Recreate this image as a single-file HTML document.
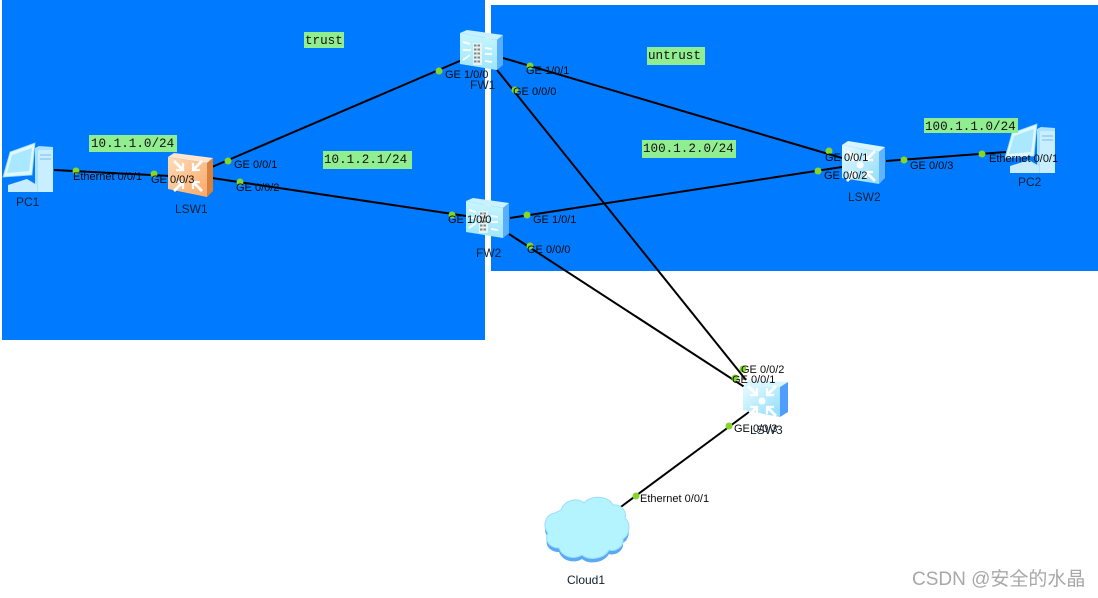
<!DOCTYPE html>
<html><head><meta charset="utf-8"><style>
html,body{margin:0;padding:0;background:#fff;width:1098px;height:598px;overflow:hidden}
svg{display:block}
text{font-family:"Liberation Sans",sans-serif;font-size:11px;fill:#0a0a0a}
.m{font-family:"Liberation Mono",monospace;font-size:12.6px;fill:#111}
.n{font-size:12px;fill:#102030}
</style></head><body>
<svg width="1098" height="598" viewBox="0 0 1098 598" xmlns="http://www.w3.org/2000/svg">
<defs>
<linearGradient id="g" x1="0" y1="0" x2="0" y2="1"><stop offset="0" stop-color="#c8f6ff"/><stop offset="1" stop-color="#9fe6fb"/></linearGradient>
<linearGradient id="o" x1="0" y1="0" x2="1" y2="1"><stop offset="0" stop-color="#ffdcb8"/><stop offset="1" stop-color="#fba968"/></linearGradient>
<linearGradient id="s" x1="0" y1="0" x2="1" y2="1"><stop offset="0" stop-color="#e6fbff"/><stop offset="1" stop-color="#8fdcfb"/></linearGradient>
<g id="fw">
<polygon points="0,3 7,0 43,5 37,10" fill="#c8f2ff"/>
<polygon points="37,10 43,5 43,35 37,40" fill="#5aaeff"/>
<polygon points="0,3 37,10 37,40 0,34" fill="url(#g)"/>
<rect x="13" y="13" width="9" height="22" fill="#e8f2f2"/>
<path d="M14 15.500h7M14 19.500h7M14 23.500h7M14 27.500h7M14 31.500h7" stroke="#7c8a86" stroke-width="2" stroke-dasharray="2.500 1"/>
<path d="M3 12l7 2M3 20h8M3 30l7-5M25 18l7 1M25 24h7M25 31l7 1" stroke="#fff" stroke-width="1.700"/>
</g>
<g id="sw">
<path d="M8 7l9 9M36 7l-9 9M8 37l9-9M36 37l-9-9" stroke="#fff" stroke-width="2.800"/>
<path d="M17 9v7h-7M27 9v7h7M17 35v-7h-7M27 35v-7h7" stroke="#fff" stroke-width="2.200" fill="none"/>
</g>
<g id="pc">
<polygon points="32,5 36,3 50,4 50,49 32,49" fill="#a9e2ff"/>
<rect x="35" y="7" width="15" height="42" fill="#c8eeff"/>
<path d="M37 12h11M37 16h11" stroke="#79bdea"/>
<polygon points="5,42 24,36 34,42 34,49 5,49" fill="#c6ecff"/>
<polygon points="7,9 32,0 29,32 0,34" fill="#def8ff" stroke="#93d8f7" stroke-width="0.800"/>
<polygon points="9,12 29,5 26,28 4,30" fill="#a9e8ff"/>
</g>
</defs>

<rect x="2" y="0" width="483" height="340" fill="#007bff"/>
<rect x="491" y="5" width="607" height="266" fill="#007bff"/>

<g stroke="#000" stroke-width="2" fill="none">
<line x1="54" y1="170" x2="170" y2="176"/>
<line x1="212" y1="167" x2="462" y2="60"/>
<line x1="212" y1="178" x2="466" y2="216"/>
<line x1="503" y1="58" x2="842" y2="158"/>
<line x1="497" y1="70" x2="746" y2="380"/>
<line x1="510" y1="218" x2="842" y2="167"/>
<line x1="509" y1="234" x2="746" y2="388"/>
<line x1="886" y1="161" x2="1006" y2="152"/>
<line x1="749" y1="412" x2="618" y2="509"/>
</g>

<!-- PC1 -->
<use href="#pc" x="3" y="143"/>
<!-- LSW1 -->
<polygon points="168,157 174,153 213,158 207,163" fill="#ffe6cc"/>
<polygon points="207,163 213,158 213,191 207,197" fill="#d9813a"/>
<polygon points="168,157 207,163 207,197 168,189" fill="url(#o)"/>
<use href="#sw" x="166" y="154"/>
<!-- FW1, FW2 -->
<use href="#fw" x="460" y="30"/>
<use href="#fw" x="466" y="198"/>
<!-- LSW2 -->
<polygon points="842,145 848,141 885,147 879,152" fill="#d8f6ff"/>
<polygon points="879,152 885,147 885,178 879,184" fill="#63b4ff"/>
<polygon points="842,145 879,152 879,184 842,178" fill="url(#s)"/>
<use href="#sw" x="839" y="144"/>
<circle cx="860" cy="165" r="3.500" fill="#fff"/>
<!-- PC2 -->
<use href="#pc" x="1005" y="124"/>
<!-- LSW3 -->
<polygon points="743,387 749,380 788,382 780,387" fill="#d8f6ff"/>
<polygon points="780,387 788,382 788,412 780,417" fill="#4f9dff"/>
<polygon points="743,387 780,387 780,417 743,410" fill="url(#s)"/>
<use href="#sw" x="740" y="379"/>
<circle cx="762" cy="401" r="3.500" fill="#fff"/>
<!-- Cloud -->
<path d="M561 510c3-10 17-13 23-7 6-8 24-8 29 2 8-1 14 6 12 13 6 5 5 17-2 21 1 8-8 13-14 11-5 9-20 11-27 5-8 5-20 2-23-7-10 0-15-8-11-15-6-6-3-19 7-20z" transform="translate(0,4)" fill="#5aa9f2"/>
<path d="M561 510c3-10 17-13 23-7 6-8 24-8 29 2 8-1 14 6 12 13 6 5 5 17-2 21 1 8-8 13-14 11-5 9-20 11-27 5-8 5-20 2-23-7-10 0-15-8-11-15-6-6-3-19 7-20z" fill="#b4f4ff" stroke="#9cdcff"/>

<!-- dots -->
<g fill="#86d62a">
<circle cx="76" cy="171" r="3.500"/><circle cx="154" cy="174" r="3.500"/><circle cx="228" cy="161" r="3.500"/><circle cx="240" cy="182" r="3.500"/>
<circle cx="439" cy="71" r="3.500"/><circle cx="530" cy="66" r="3.500"/><circle cx="515" cy="90" r="3.500"/>
<circle cx="452" cy="215" r="3.500"/><circle cx="527" cy="215" r="3.500"/><circle cx="530" cy="246" r="3.500"/>
<circle cx="829" cy="151" r="3.500"/><circle cx="818" cy="171" r="3.500"/><circle cx="904" cy="160" r="3.500"/><circle cx="982" cy="154" r="3.500"/>
<circle cx="743" cy="369" r="3.500"/><circle cx="735" cy="378" r="3.500"/><circle cx="729" cy="426" r="3.500"/><circle cx="636" cy="496" r="3.500"/>
</g>

<!-- notes -->
<g fill="#90ee90">
<rect x="304" y="32" width="40" height="16"/>
<rect x="647" y="47" width="58" height="18"/>
<rect x="89" y="135" width="88" height="17"/>
<rect x="323" y="151" width="89" height="18"/>
<rect x="642" y="140" width="94" height="18"/>
<rect x="924" y="118" width="94" height="15"/>
</g>
<text class="m" x="305" y="44">trust</text>
<text class="m" x="648" y="59">untrust</text>
<text class="m" x="91" y="147">10.1.1.0/24</text>
<text class="m" x="324" y="163">10.1.2.1/24</text>
<text class="m" x="643" y="152">100.1.2.0/24</text>
<text class="m" x="925" y="130">100.1.1.0/24</text>

<!-- port labels -->
<text x="73" y="180">Ethernet 0/0/1</text>
<text x="151" y="183">GE 0/0/3</text>
<text x="234" y="168">GE 0/0/1</text>
<text x="236" y="191">GE 0/0/2</text>
<text x="445" y="78">GE 1/0/0</text>
<text x="526" y="74">GE 1/0/1</text>
<text x="513" y="95">GE 0/0/0</text>
<text x="448" y="223">GE 1/0/0</text>
<text x="533" y="223">GE 1/0/1</text>
<text x="527" y="253">GE 0/0/0</text>
<text x="825" y="161">GE 0/0/1</text>
<text x="824" y="179">GE 0/0/2</text>
<text x="910" y="169">GE 0/0/3</text>
<text x="989" y="162">Ethernet 0/0/1</text>
<text x="741" y="373">GE 0/0/2</text>
<text x="732" y="383">GE 0/0/1</text>
<text x="734" y="432">GE 0/0/3</text>
<text x="640" y="502">Ethernet 0/0/1</text>

<!-- device names -->
<text class="n" x="16" y="206">PC1</text>
<text class="n" x="175" y="213">LSW1</text>
<text class="n" x="470" y="89">FW1</text>
<text class="n" x="476" y="257">FW2</text>
<text class="n" x="848" y="201">LSW2</text>
<text class="n" x="1018" y="186">PC2</text>
<text class="n" x="750" y="434">LSW3</text>
<text class="n" x="567" y="584">Cloud1</text>

<text x="912" y="585" style="font-family:'Liberation Sans','Noto Sans CJK SC',sans-serif;font-size:19px;fill:#a8a8a8">CSDN @安全的水晶</text>
</svg>
</body></html>
